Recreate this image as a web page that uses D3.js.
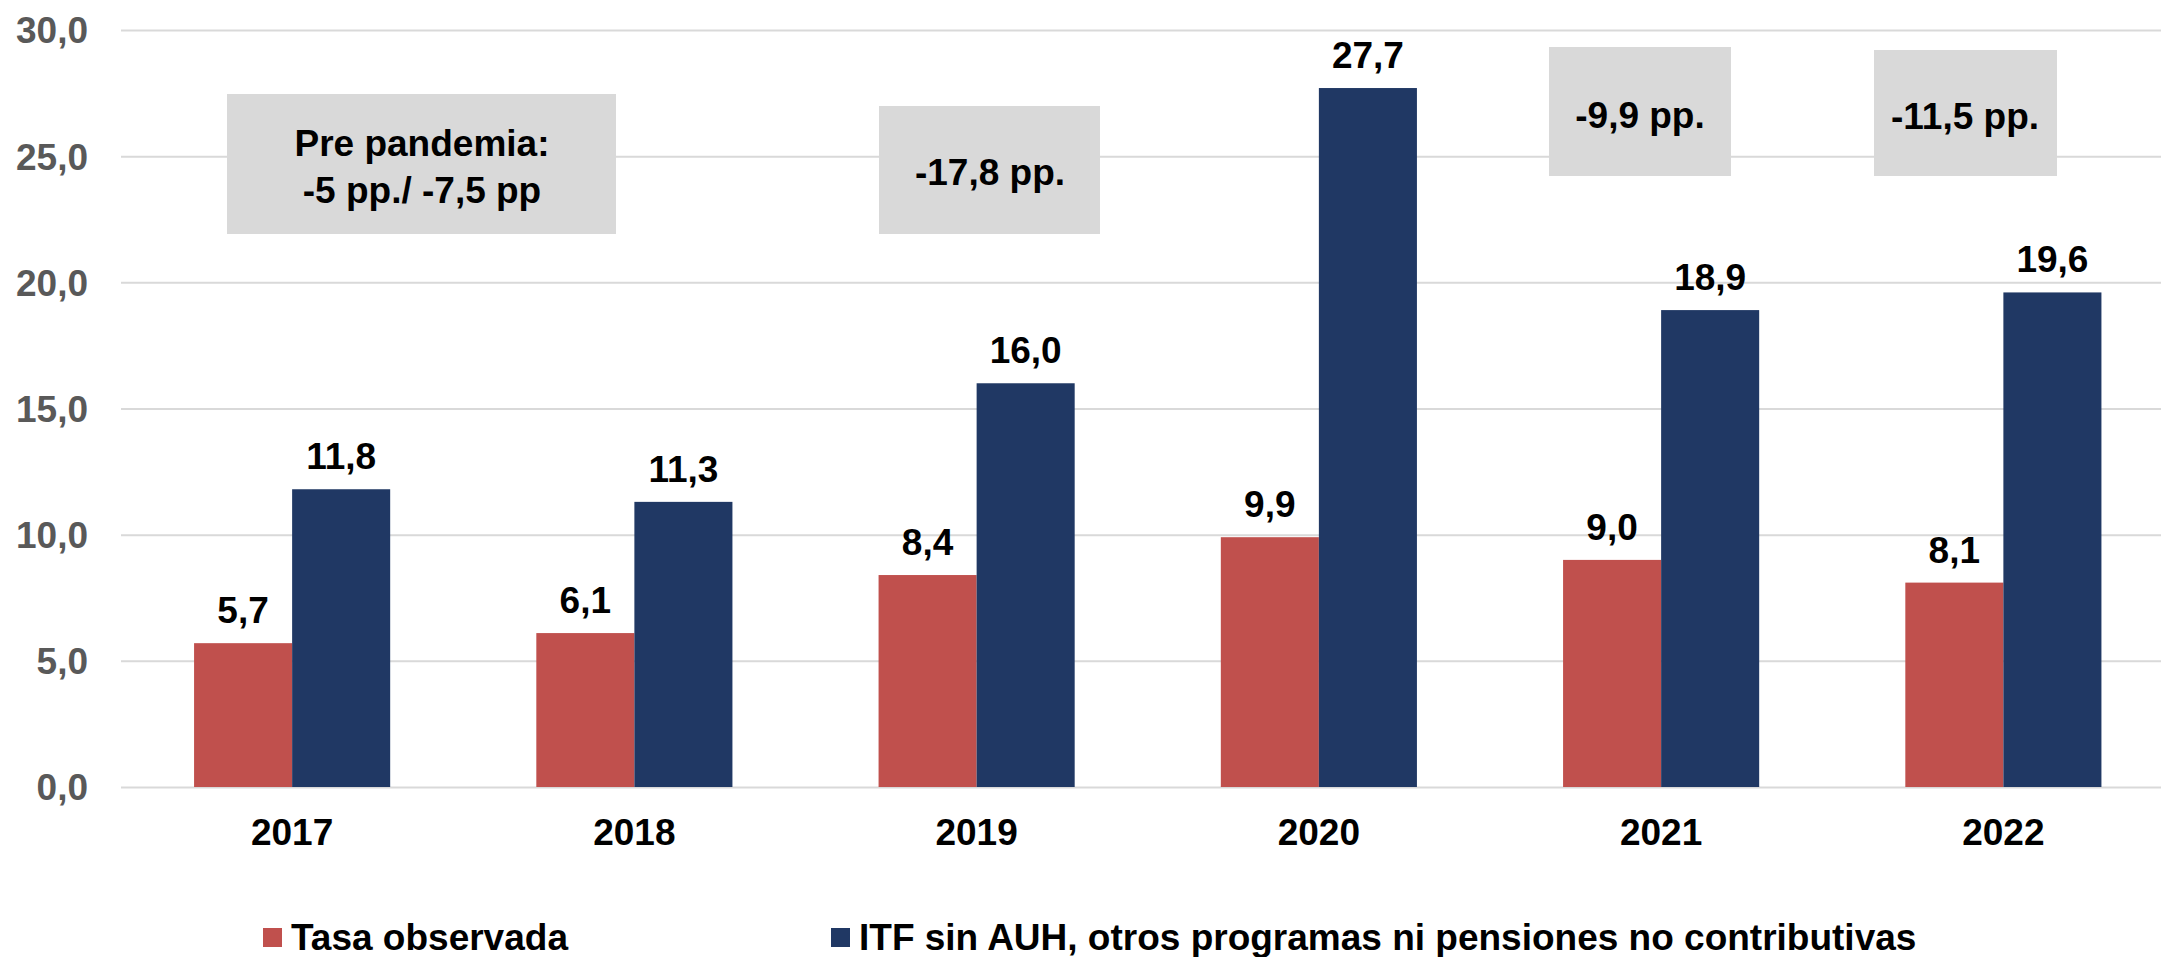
<!DOCTYPE html>
<html>
<head>
    <meta charset="utf-8">
    <script src="https://d3js.org/d3.v7.min.js"></script>
    <title>Tasa observada vs ITF</title>
    <style>
        body {
            margin: 0;
            background: #fff;
        }
        svg text {
            font-family: "Liberation Sans", Arial, sans-serif;
            font-weight: bold;
        }
    </style>
</head>
<body>
    <div id="chartContainer"></div>

    <script>
        // Data
        var years = ["2017", "2018", "2019", "2020", "2021", "2022"];
        var seriesNames = ["Tasa observada", "ITF sin AUH, otros programas ni pensiones no contributivas"];
        var tasaObservada = [5.7, 6.1, 8.4, 9.9, 9.0, 8.1];
        var itfSinAuh = [11.8, 11.3, 16.0, 27.7, 18.9, 19.6];
        var yTicks = [0, 5, 10, 15, 20, 25, 30];
        var notes = [
            ["Pre pandemia:", "-5 pp./ -7,5 pp"],
            ["-17,8 pp."],
            ["-9,9 pp."],
            ["-11,5 pp."]
        ];

        var colors = ["#C0504D", "#203864"];

        var width = 2161;
        var height = 957;
        var left = 121;
        var baseY = 787;
        var topY = 30;

        var fmt = d3.formatLocale({decimal: ",", thousands: ".", grouping: [3], currency: ["", ""]}).format(".1f");

        var svg = d3.select('#chartContainer').append('svg')
            .attr('width', width)
            .attr('height', height);

        // Scales
        var x0 = d3.scaleBand()
            .domain(years)
            .range([left, left + 6 * 342.25])
            .paddingInner(0.427)
            .paddingOuter(0.2135);

        var x1 = d3.scaleBand()
            .domain(seriesNames)
            .range([0, x0.bandwidth()]);

        var y = d3.scaleLinear()
            .domain([0, 30])
            .range([baseY, topY]);

        // Gridlines + y labels
        var yAxis = svg.append('g')
            .attr('transform', 'translate(' + left + ',0)')
            .call(d3.axisLeft(y)
                .tickValues(yTicks)
                .tickFormat(fmt)
                .tickSizeInner(-(width - left))
                .tickSizeOuter(0)
                .tickPadding(33));
        yAxis.select('.domain').remove();
        yAxis.selectAll('.tick line')
            .attr('stroke', '#D9D9D9')
            .attr('stroke-width', 2);
        yAxis.selectAll('.tick text')
            .attr('fill', '#595959')
            .style('font-size', '37px')
            .attr('dy', '0.35em');

        // Annotation boxes (drawn behind bars)
        var boxes = [
            {x: 227, y: 94, w: 389, h: 140, cx: 422, base: [156, 203]},
            {x: 879, y: 106, w: 221, h: 128, cx: 990, base: [185]},
            {x: 1549, y: 47, w: 182, h: 129, cx: 1640, base: [128]},
            {x: 1874, y: 50, w: 183, h: 126, cx: 1965, base: [129]}
        ];
        var noteG = svg.selectAll('.note')
            .data(boxes)
            .enter().append('g')
            .attr('class', 'note');
        noteG.append('rect')
            .attr('x', function(d) { return d.x; })
            .attr('y', function(d) { return d.y; })
            .attr('width', function(d) { return d.w; })
            .attr('height', function(d) { return d.h; })
            .attr('fill', '#D9D9D9');
        noteG.each(function(d, i) {
            var g = d3.select(this);
            notes[i].forEach(function(line, j) {
                g.append('text')
                    .attr('x', d.cx)
                    .attr('y', d.base[j])
                    .attr('text-anchor', 'middle')
                    .attr('fill', '#000')
                    .style('font-size', '37px')
                    .text(line);
            });
        });

        // Bars
        var rows = years.map(function(yr, i) {
            return {year: yr, values: [tasaObservada[i], itfSinAuh[i]]};
        });

        var groups = svg.selectAll('.year')
            .data(rows)
            .enter().append('g')
            .attr('class', 'year')
            .attr('transform', function(d) { return 'translate(' + x0(d.year) + ',0)'; });

        groups.selectAll('rect')
            .data(function(d) { return d.values.map(function(v, k) { return {name: seriesNames[k], value: v, k: k}; }); })
            .enter().append('rect')
            .attr('x', function(d) { return x1(d.name); })
            .attr('y', function(d) { return y(d.value); })
            .attr('width', x1.bandwidth())
            .attr('height', function(d) { return baseY - y(d.value); })
            .attr('fill', function(d) { return colors[d.k]; });

        groups.selectAll('.val')
            .data(function(d) { return d.values.map(function(v, k) { return {name: seriesNames[k], value: v}; }); })
            .enter().append('text')
            .attr('class', 'val')
            .attr('x', function(d) { return x1(d.name) + x1.bandwidth() / 2; })
            .attr('y', function(d) { return y(d.value) - 20; })
            .attr('text-anchor', 'middle')
            .attr('fill', '#000')
            .style('font-size', '37px')
            .text(function(d) { return fmt(d.value); });

        // X axis labels
        var xAxis = svg.append('g')
            .attr('transform', 'translate(0,' + baseY + ')')
            .call(d3.axisBottom(x0).tickSize(0).tickPadding(0));
        xAxis.select('.domain').remove();
        xAxis.selectAll('.tick text')
            .attr('y', 58)
            .attr('dy', 0)
            .attr('fill', '#000')
            .style('font-size', '37px');

        // Legend
        var legendX = [263, 831];
        var legend = svg.selectAll('.legend')
            .data(seriesNames)
            .enter().append('g')
            .attr('class', 'legend')
            .attr('transform', function(d, i) { return 'translate(' + legendX[i] + ',928)'; });
        legend.append('rect')
            .attr('width', 19)
            .attr('height', 19)
            .attr('fill', function(d, i) { return colors[i]; });
        legend.append('text')
            .attr('x', 28)
            .attr('y', 22)
            .attr('fill', '#000')
            .style('font-size', '37px')
            .text(function(d) { return d; });
    </script>
</body>
</html>
